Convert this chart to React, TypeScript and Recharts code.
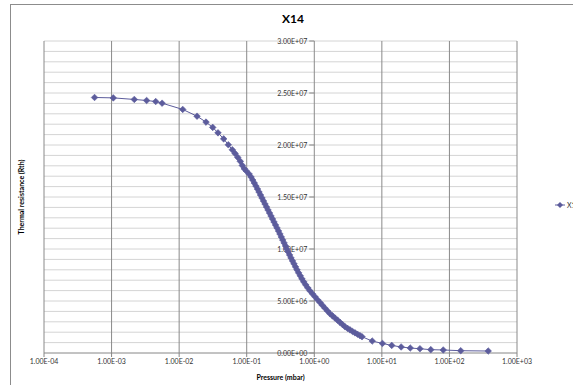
import React from 'react'
import { LineChart, Line, XAxis, YAxis, ReferenceLine, ReferenceDot } from 'recharts'

// pressure (mbar) and thermal resistance
const pressure = [
  0.00056, 0.00106, 0.00217, 0.0033, 0.0045, 0.0056, 0.0113, 0.0184, 0.025, 0.0314,
  0.0376, 0.0456, 0.0534, 0.0612, 0.0672, 0.0737, 0.0804, 0.086, 0.092,
  0.0986, 0.1085, 0.1161, 0.1227, 0.1295, 0.1368, 0.1444, 0.152, 0.16, 0.1684,
  0.1772, 0.1865, 0.1963, 0.2066, 0.2175, 0.2289, 0.2408, 0.2534, 0.2667, 0.2807,
  0.2954, 0.3099, 0.325, 0.3409, 0.3575, 0.375, 0.392, 0.4111, 0.4312, 0.4522,
  0.476, 0.5011, 0.5273, 0.5549, 0.586, 0.621, 0.656, 0.6973, 0.7464, 0.7991,
  0.8613, 0.938, 1.025, 1.116, 1.215, 1.323, 1.441, 1.569, 1.708, 1.86,
  2.026, 2.206, 2.402, 2.616, 2.849, 3.102, 3.378, 3.679, 4.006, 4.362,
  4.751, 5.085,
  7.2, 10.2, 14, 19.3, 26.3, 36.6, 53, 81, 147, 375,
]
const resistance = [
  2.457e7, 2.453e7, 2.438e7, 2.428e7, 2.418e7, 2.402e7, 2.342e7, 2.277e7, 2.22e7, 2.169e7,
  2.117e7, 2.059e7, 2.002e7, 1.954e7, 1.919e7, 1.881e7, 1.843e7, 1.804e7, 1.772e7,
  1.75e7, 1.7207e7, 1.6919e7, 1.6631e7, 1.6343e7, 1.6055e7, 1.5768e7, 1.548e7, 1.5192e7, 1.4904e7,
  1.4616e7, 1.4328e7, 1.404e7, 1.3752e7, 1.3464e7, 1.3177e7, 1.2889e7, 1.2601e7, 1.2313e7, 1.2025e7,
  1.1737e7, 1.1449e7, 1.1161e7, 1.0873e7, 1.0585e7, 1.0297e7, 1.001e7, 9.722e6, 9.434e6, 9.146e6,
  8.858e6, 8.57e6, 8.282e6, 7.994e6, 7.706e6, 7.418e6, 7.13e6, 6.843e6, 6.555e6, 6.267e6,
  5.979e6, 5.691e6, 5.403e6, 5.125e6, 4.856e6, 4.578e6, 4.309e6, 4.04e6, 3.772e6, 3.57e6,
  3.359e6, 3.157e6, 2.946e6, 2.735e6, 2.524e6, 2.37e6, 2.226e6, 2.073e6, 1.939e6, 1.804e6,
  1.67e6, 1.564e6,
  1.15e6, 9.2e5, 7.3e5, 5.8e5, 4.8e5, 4.1e5, 3.2e5, 2.9e5, 2.2e5, 1.9e5,
]

const xTicks = [1e-4, 1e-3, 1e-2, 1e-1, 1, 1e1, 1e2, 1e3]
const xTickLabels = ['1.00E-04', '1.00E-03', '1.00E-02', '1.00E-01', '1.00E+00', '1.00E+01', '1.00E+02', '1.00E+03']
const yTicks = [0, 5e6, 1e7, 1.5e7, 2e7, 2.5e7, 3e7]
const yTickLabels = ['0.00E+00', '5.00E+06', '1.00E+07', '1.50E+07', '2.00E+07', '2.50E+07', '3.00E+07']
const yGridTicks = Array.from({ length: 30 }, (_, i) => (i + 1) * 1e6)

const SERIES = 'X14'
const COLOR = '#5c5c9c'
const FONT = 'Lato, "Open Sans", sans-serif'

const data = pressure.map((p, i) => ({ p, r: resistance[i] }))

const renderDiamond = (props: any) => {
  const { cx, cy, index } = props
  if (cx == null || cy == null) return <g key={index} />
  const s = 3.3
  return (
    <path
      key={index}
      d={`M${cx},${cy - s}L${cx + s},${cy}L${cx},${cy + s}L${cx - s},${cy}Z`}
      fill={COLOR}
      stroke={COLOR}
      strokeWidth={0.6}
    />
  )
}

// y axis sits at pressure = 1, so its ticks are drawn as reference dots
const YTickAtOne = (label: string) => (props: any) => {
  const { cx, cy } = props
  return (
    <g>
      <line x1={cx - 5} y1={cy} x2={cx} y2={cy} stroke="#868686" />
      <text x={cx - 7} y={cy} dy={2.5} textAnchor="end" fontSize={7} fill="#333" fontFamily={FONT}>
        {label}
      </text>
    </g>
  )
}

export default function App() {
  return (
    <div style={{ position: 'absolute', left: 0, top: 0, width: 573, height: 385, overflow: 'hidden', background: '#fff', fontFamily: FONT }}>
      <div style={{ position: 'absolute', left: 10, top: 4, width: 620, height: 420, border: '1px solid #8c8c8c' }} />

      <div style={{ position: 'absolute', left: 0, width: 586, top: 11, textAlign: 'center', fontSize: 12, fontWeight: 700, color: '#000' }}>
        {SERIES}
      </div>

      <div style={{
        position: 'absolute',
        left: 21,
        top: 197,
        transform: 'translate(-50%, -50%) rotate(-90deg)',
        fontSize: 7,
        fontWeight: 700,
        whiteSpace: 'nowrap',
        color: '#000'
      }}>
        Thermal resistance (Rth)
      </div>

      <div style={{ position: 'absolute', left: 44, width: 473, top: 373, textAlign: 'center', fontSize: 7, fontWeight: 700, color: '#000' }}>
        Pressure (mbar)
      </div>

      <div style={{ position: 'absolute', left: 0, top: 0 }}>
        <LineChart width={573} height={385} data={data} margin={{ top: 41, right: 56, left: 44, bottom: 12 }}>
          <XAxis
            dataKey="p"
            type="number"
            scale="log"
            domain={[1e-4, 1e3]}
            ticks={xTicks}
            allowDataOverflow
            height={20}
            tickSize={4}
            axisLine={{ stroke: '#868686' }}
            tickLine={{ stroke: '#868686' }}
            tick={{ fontSize: 7, fill: '#333', fontFamily: FONT }}
            tickFormatter={(v: number) => xTickLabels[xTicks.findIndex(t => Math.abs(Math.log10(t) - Math.log10(v)) < 0.01)] ?? ''}
          />
          <YAxis
            type="number"
            domain={[0, 3e7]}
            width={0}
            tick={false}
            axisLine={false}
            tickLine={false}
          />
          {yGridTicks.map(v => (
            <ReferenceLine key={'h' + v} y={v} stroke="#d4d4d4" ifOverflow="visible" />
          ))}
          {xTicks.map(t => (
            <ReferenceLine key={'v' + t} x={t} stroke="#8a8a8a" ifOverflow="visible" />
          ))}
          {yTicks.map((v, i) => (
            <ReferenceDot key={v} x={1} y={v} r={0} ifOverflow="visible" shape={YTickAtOne(yTickLabels[i])} />
          ))}
          <Line
            dataKey="r"
            type="linear"
            stroke={COLOR}
            strokeWidth={1}
            dot={renderDiamond}
            activeDot={false}
            isAnimationActive={false}
          />
        </LineChart>
      </div>

      <svg style={{ position: 'absolute', left: 553, top: 199 }} width={40} height={12}>
        <line x1={2} y1={6} x2={12} y2={6} stroke={COLOR} strokeWidth={1} />
        <path d="M7,3L10,6L7,9L4,6Z" fill={COLOR} />
        <text x={14} y={8.5} fontSize={7} fill="#333" fontFamily={FONT}>{SERIES}</text>
      </svg>
    </div>
  )
}
